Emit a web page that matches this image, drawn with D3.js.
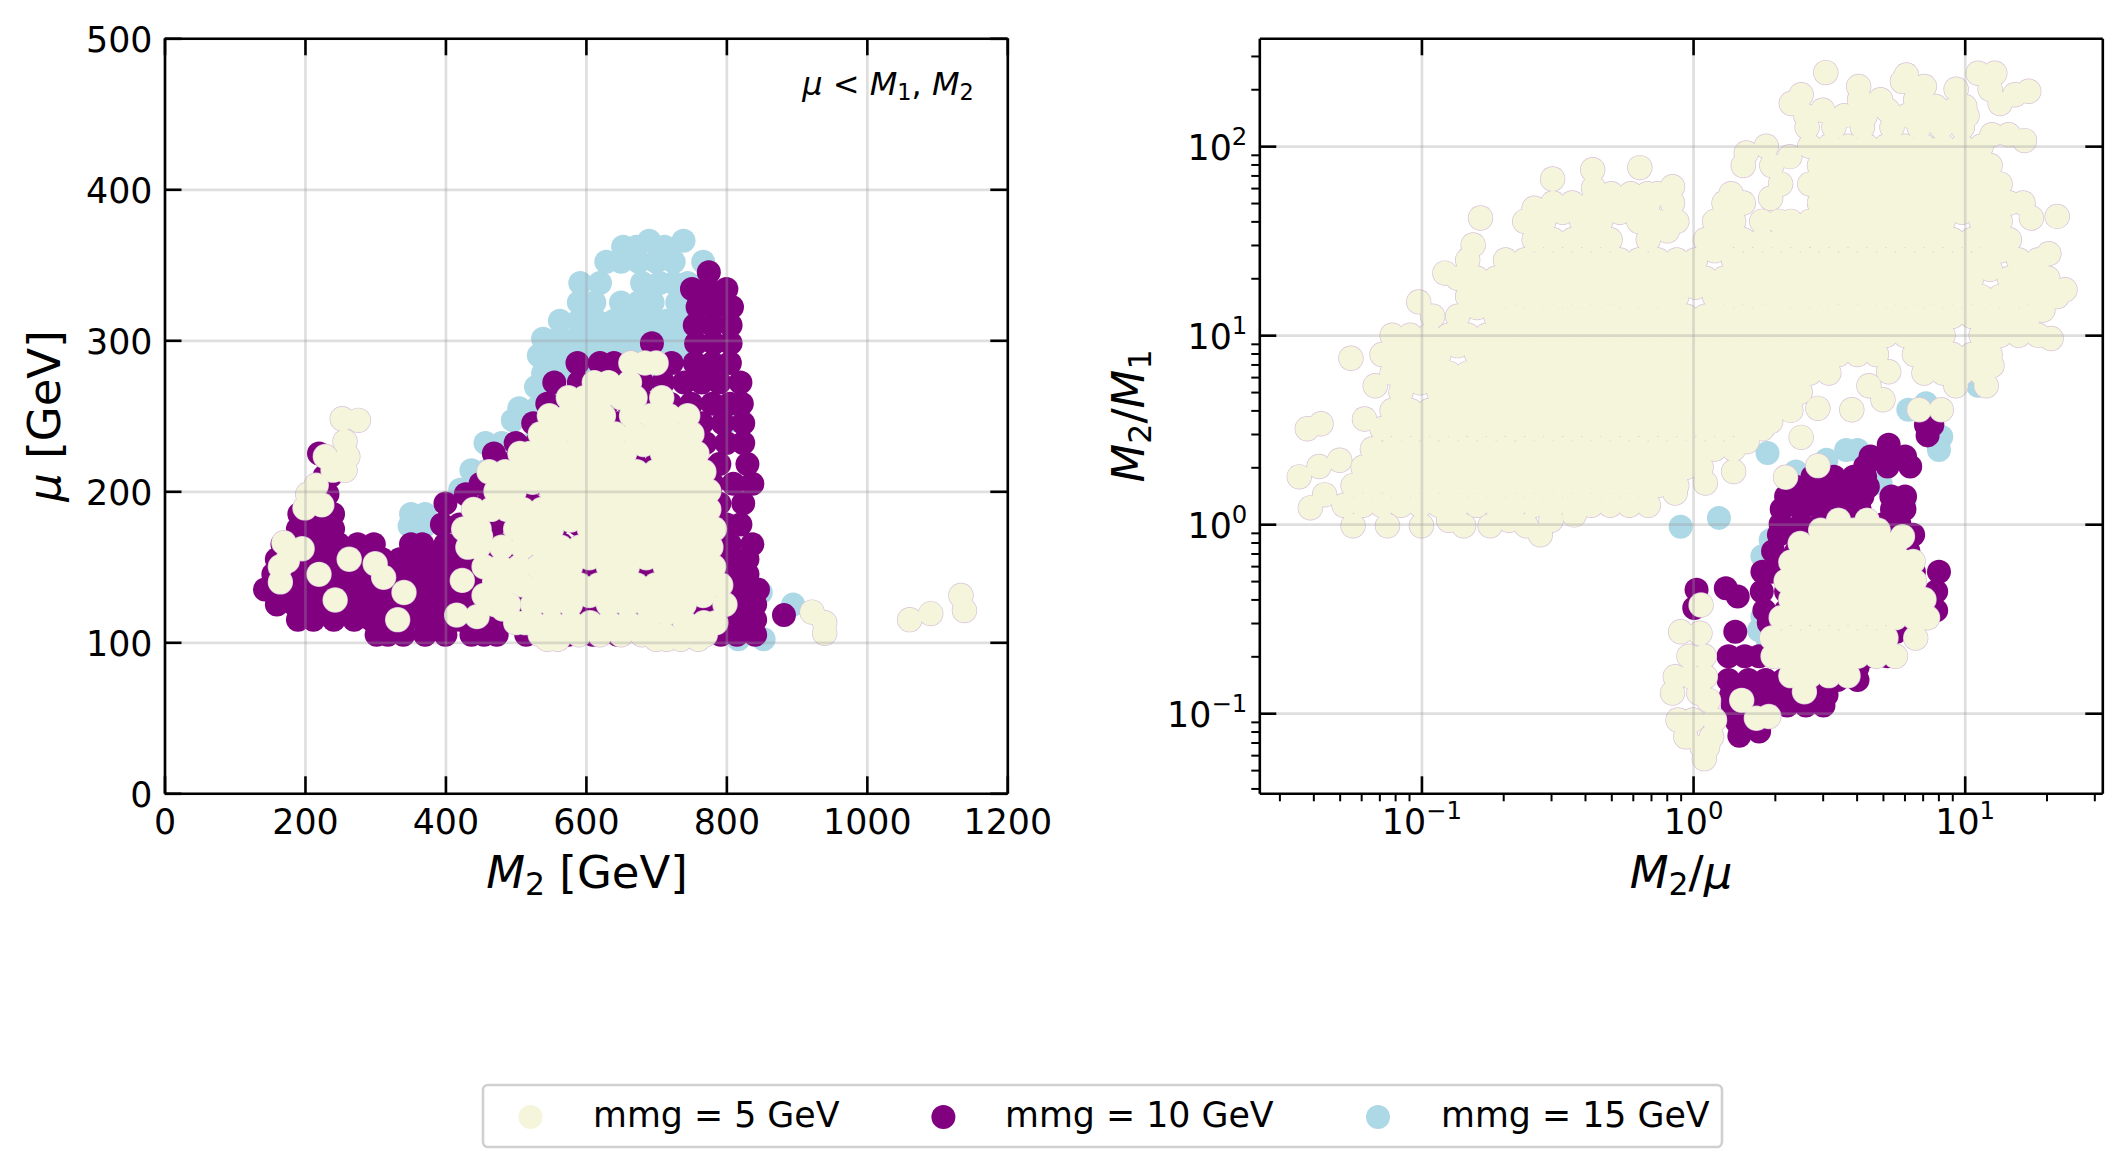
<!DOCTYPE html>
<html><head><meta charset="utf-8">
<script src="https://cdn.jsdelivr.net/npm/d3@7/dist/d3.min.js"></script>
<style>html,body{margin:0;padding:0;background:#fff}svg{display:block}text{font-family:"DejaVu Sans";fill:#000}</style>
</head><body><svg id="c" width="2126" height="1172"></svg>
<script>
// Each row: [y value, [x values]]
// Left panel: mu [GeV] vs M2 [GeV]
const leftBlue15 = [[366,[690,739]],[362,[653,672,712]],[352,[629,650,675,700,725,767]],[338,[592,620,680,705,725,745,770]],[325,[590,612,650,675,695,730,755]],[313,[563,590,615,640,665,690,715,740,762]],[301,[539,560,585,610,635,660,685,710,735,760]],[290,[533,555,580,605,630,655,680,705,730,745]],[278,[539,560,585,610,640,670,700]],[269,[529,550]],[255,[505,530,555]],[247,[496,808]],[232,[457,480,500,525]],[214,[437,460,490]],[201,[421,440]],[185,[351,371]],[177,[349,370]],[133,[849]],[125,[895]],[102,[817,853]]];
const leftPurple10 = [[345,[775]],[334,[751,775,800]],[322,[759,785,808]],[310,[755,780,806]],[298,[694,757,782,806]],[285,[588,620,640,665,722,755,780,805]],[272,[555,590,620,650,680,710,740,765,790,820]],[258,[545,570,600,630,660,690,720,750,780,805,822]],[245,[525,555,585,615,645,675,705,735,765,795,824]],[232,[500,530,560,590,620,650,680,710,740,770,800,824]],[225,[220,469]],[218,[490,520,550,580,610,640,670,700,730,760,790,830]],[210,[228,236]],[205,[450,480,510,540,570,600,630,660,690,720,750,780,810,837]],[198,[225,232,429]],[192,[400,460,490,520,550,580,610,640,670,700,730,760,790,824]],[185,[192,215,240]],[178,[395,420,445,470,500,530,560,590,620,650,680,710,740,770,800,820]],[175,[190,215,240]],[165,[168,195,220,248,275,298,351,367,400,425,450,475,505,535,565,595,625,655,685,715,745,775,805,837]],[155,[160,185,210,235,260,285,310,335,355,380,400,425,450,480,510,540,570,600,630,660,690,720,750,780,810,830]],[145,[155,178,203,228,253,278,303,328,353,378,403,428,455,485,515,545,575,605,635,665,695,725,755,785,810,830]],[135,[143,168,193,218,243,268,293,318,343,368,393,418,443,470,500,530,560,590,620,650,680,710,740,770,800,825,845]],[125,[160,185,210,235,260,285,310,335,360,385,410,435,460,490,520,550,580,610,640,670,700,730,760,790,815,841]],[118,[882]],[115,[190,212,241,270,295,320,345,370,395,420,445,470,500,530,560,590,620,650,680,710,740,770,795,815,841]],[105,[302,318,340,371,400,437,455,473,515,540,575,610,645,680,715,750,792,815,841]]];
const leftBeige5 = [[285,[664,684,700]],[272,[612,632,662]],[262,[575,598,622,650,670,708]],[250,[548,575,600,625,665,692,718,745]],[238,[535,560,588,615,642,670,697,724,751]],[231,[682]],[225,[506,520,547,574,601,628,655,709,736,758]],[213,[462,485,510,537,564,591,618,645,672,699,726,753,768]],[206,[524]],[200,[472,498,551,578,605,632,659,686,713,740,767,775]],[188,[440,465,488,510,537,564,591,618,645,672,699,726,753,775]],[181,[578]],[175,[426,448,500,524,551,605,632,659,686,713,740,767,783]],[170,[450]],[163,[432,447,480,510,537,564,591,618,645,672,699,726,753,778]],[156,[605,686]],[150,[455,478,505,532,551,578,632,659,713,740,767,782]],[140,[470,492]],[138,[510,537,564,591,618,645,672,699,726,753,780,792]],[131,[455,478,605,767]],[125,[470,490,524,551,578,632,659,686,713,740,798]],[122,[482]],[119,[714]],[113,[500,514,525,552,579,606,633,660,687,741,768,785]],[105,[535,565,590,620,650,680,712,740,770]],[102,[545,560,700,715,735,760]],
[248,[253]],[247,[276]],[233,[257]],[223,[229,261]],[214,[257,240]],[204,[216]],[198,[204]],[191,[224]],[189,[200]],[166,[170]],[162,[196]],[155,[263]],[154,[175]],[152,[300]],[150,[165]],[145,[220]],[143,[312]],[141,[424]],[140,[165]],[133,[341]],[131,[1134]],[128,[243]],[121,[1139]],[120,[922]],[119,[1091]],[118,[416]],[117,[445]],[115,[332,1061]],[113,[940]],[106,[940]]];

// Right panel: M2/M1 vs M2/mu
const rightBlue15 = [[11.6,[14.8]],[5.4,[11.2]],[4.37,[7.2]],[4.03,[6.2]],[2.9,[8.2]],[2.47,[3.66,4.03,8.04]],[2.38,[1.88]],[2.19,[3.1]],[1.9,[2.39]],[1.65,[4.9]],[1.29,[6]],[1.08,[1.245]],[.97,[.9]],[.826,[1.93]],[.676,[1.8]],[.324,[1.8]],[.275,[1.75]],[.245,[1.88]]];
const rightPurple10 = [[3.35,[7.2,7.6]],[2.95,[7.3]],[2.63,[5.25]],[2.28,[4.5,5.25,6.03]],[2.02,[4.3,5.2,6.3]],[1.78,[2.75,3.3,3.9,4.3]],[1.58,[2.39,2.85,3.4,4,4.4]],[1.4,[2.2,2.6,3.05,3.6,4.2,5.37,6.03]],[1.2,[2.12,2.5,2.95,3.5,4.1,5.4,6]],[1,[2.1,2.5,2.95,3.5,4.2,5,5.75]],[.88,[2.07,2.5,3,3.5,4.1,6.46]],[.72,[1.97,2.4,3,3.6,4.3,5.2,6.2]],[.56,[1.8,1.95,2.4,3,3.6,4.4,5.4,6.5,8.04]],[.458,[1.32]],[.45,[1.03]],[.44,[1.79,2.2,2.7,3.3,4,5,6.3,7.85]],[.414,[1.46]],[.36,[1.01]],[.35,[1.83,2.2,2.7,3.3,4,5,6.3,7.85]],[.3,[1.9,2.3,2.8,3.4,4.2,5.2]],[.27,[1.43,2.4,3,3.7,4.6,5.6]],[.2,[1.35,1.55,1.75,2.1,2.5,3,3.6,4.4,5.2]],[.175,[4.03]],[.15,[1.35,1.6,1.85,2.15,2.5,2.9,3.4,4.03]],[.125,[1.38,1.65,1.9,2.3,2.7,3.1]],[.11,[1.4,1.7,2.22,2.6,3.02]],[.09,[1.45,1.7]],[.08,[1.75]],[.076,[1.48]]];
const rightBeige5 = [[245,[3.08]],[243,[11.2,12.9]],[238,[6.1]],[220,[5.9]],[207,[4.07,7.1]],[200,[9.3,12.4]],[195,[17.2]],[187,[2.5,15.3]],[176,[4.1,4.9,6.6]],[168,[2.3,13.5]],[162,[7.8,10]],[155,[3,5.2,9]],[145,[2.6,3.6,4.3,6.1,7.1,8.5,10.2]],[126,[2.63,3.3,4.2,5.4,6.8,8.2,9.8]],[115,[12.6,14.5]],[107,[16.6]],
[100,[1.86,2.69,3.16,3.72,4.37,5.13,6.03,7.08,8.32,9.77,11.5]],[92,[1.57]],[88,[2.27]],
[79,[1.53,1.95,2.92,3.43,4.03,4.73,5.56,6.53,7.67,9.02,10.6,12.4]],[77,[.637]],[75,[.427]],[67,[.304]],
[63,[2.1,2.69,3.16,3.72,4.37,5.13,6.03,7.08,8.32,9.77,11.5,13.5]],[61,[.84]],[60,[.43]],[56,[1.38,.5,.59,.68,.74]],[53,[1.93]],
[50,[.305,.359,.422,.495,.582,.684,.84,1.3,1.53,2.92,3.43,4.03,4.73,5.56,6.53,7.67,9.02,10.6,12.4,14.6,16.4]],[47,[.26]],[44.7,[.331,.537,9.77]],[42.5,[21.9]],[41.7,[17.6,.165]],
[40,[.24,.282,.389,.457,.631,.741,.871,1.2,1.41,1.79,2.07,2.29,2.69,3.16,3.72,4.37,5.13,6.03,7.08,8.32,11.5,13.5]],[35.7,[.804]],
[32,[.26,.305,.359,.422,.495,.684,1.11,1.3,1.53,1.8,2.11,2.48,2.92,3.43,4.03,4.73,5.56,6.53,7.67,9.02,10.6,12.4,14.6]],[30,[.155]],[28,[1.2,13.5]],[27,[20.4]],
[25,[.148,.204,.24,.282,.331,.389,.457,.537,.631,.741,.871,1.02,1.41,1.66,1.95,2.29,2.69,3.16,3.72,4.37,5.13,6.03,7.08,8.32,9.77,11.5,15.8,18.6]],[22.3,[12.4]],[21.3,[.122]],
[20,[.136,.16,.188,.221,.26,.305,.359,.422,.495,.582,.684,.804,.944,1.11,1.3,1.53,1.8,2.11,2.48,2.92,3.43,4.03,4.73,5.56,6.53,7.67,9.02,10.6,14.6,17.2,20.2]],[17.9,[1.02]],[17.4,[23.4]],
[16,[.148,.174,.204,.24,.282,.331,.389,.457,.537,.631,.741,.871,1.2,1.41,1.66,1.95,2.29,2.69,3.16,3.72,4.37,5.13,6.03,7.08,8.32,9.77,11.5,13.5,15.8,18.6,21.9]],[15,[.0977]],[14,[.16]],[13.6,[19.4]],
[12.6,[.11,.136,.188,.221,.26,.305,.359,.422,.495,.582,.684,.804,.944,1.11,1.3,1.53,1.8,2.11,2.48,2.92,3.43,4.03,4.73,5.56,6.53,7.67,9.02,10.6,12.4,14.6,17.2]],
[10,[.078,.091,.107,.126,.148,.174,.204,.24,.282,.331,.389,.457,.537,.631,.741,.871,1.02,1.2,1.41,1.66,1.95,2.29,2.69,3.16,3.72,4.37,5.13,6.03,7.08,8.32,11.5,13.5,15.8,18.6]],[9.6,[20.8]],[8.8,[.136]],
[7.9,[.0716,.0841,.0989,.116,.16,.188,.221,.26,.305,.359,.422,.495,.582,.684,.804,.944,1.11,1.3,1.53,1.8,2.11,2.48,2.92,3.43,4.03,4.73,6.53,7.67,9.02,10.6,12.4]],[7.55,[.055]],[6.9,[12.6]],
[6.4,[5.25]],[6.3,[.078,.091,.107,.126,.148,.174,.204,.24,.282,.331,.389,.457,.537,.631,.741,.871,1.02,1.2,1.41,1.66,1.95,2.29,2.69,3.16,7.08,8.32,9.77,11.5]],[5.6,[.0989]],
[5.4,[.0676,4.44,9.27,12]],[5,[.0841,.116,.136,.16,.188,.221,.26,.305,.359,.422,.495,.582,.684,.804,.944,1.11,1.3,1.53,1.8,2.11,2.48]],[4.73,[2.34]],[4.55,[5]],
[4.1,[2.88]],[4.03,[3.84,6.8,8.2]],[4,[.078,.091,.107,.126,.148,.174,.204,.24,.282,.331,.389,.457,.537,.631,.741,.871,1.02,1.2,1.41,1.66,1.95,2.29]],[3.6,[.0617]],[3.49,[1.93]],[3.4,[.0427]],
[3.2,[.038,.0716,.0841,.0989,.116,.136,.16,.188,.221,.26,.305,.359,.422,.495,.582,.684,.804,.944,1.11,1.3,1.53,1.8]],[2.88,[2.5]],[2.74,[1.58]],
[2.5,[.066,.078,.091,.107,.126,.148,.174,.204,.24,.282,.331,.389,.457,.537,.631,.741,.871,1.02,1.2,1.41]],[2.18,[.05]],[2.04,[2.88]],[2.02,[.042]],
[2,[.061,.0716,.0841,.0989,.116,.136,.16,.188,.221,.26,.305,.359,.422,.495,.582,.684,.804,.944,1.07]],[1.9,[1.41]],[1.78,[.0355]],[1.77,[2.19]],[1.65,[1.11]],
[1.6,[.056,.066,.078,.091,.107,.126,.148,.174,.204,.24,.282,.331,.389,.457,.537,.631,.741,.871]],[1.46,[.859]],[1.43,[.044]],
[1.26,[.0519,.061,.0716,.0841,.0989,.116,.136,.16,.188,.221,.26,.305,.359,.422,.495,.582,.684]],[1.22,[.039]],[1.12,[.365]],
[1.05,[.126,.21,.3,3.43,4.37]],[.98,[.056,.075,.1,.143,.179,.243]],[.93,[2.95,3.43,3.9,4.37,4.8]],[.88,[.274]],
[.86,[5.9]],[.79,[2.48,2.92,3.43,4.03,4.73,5.56]],[.635,[6.46]],[.63,[2.29,2.69,3.16,3.72,4.37,5.13,6.03]],[.5,[2.2,2.48,2.92,3.43,4.03,4.73,5.56,6.53]],[.4,[2.29,2.69,3.16,3.72,4.37,5.13,6.03,7.08]],[.374,[1.07]],[.32,[2.11,2.48,2.92,3.43,4.03,4.73,5.56,6.53,7.3]],[.27,[.9]],[.265,[1.06]],[.25,[1.95,2.29,2.69,3.16,3.72,4.37,5.13,6.6]],[.2,[.966,1.1,1.97,2.11,2.48,2.92,3.43,4.03,4.73,5.56]],[.158,[2.29,2.69,3.16,3.72]],[.156,[.86,.98,1.11]],[.13,[2.57]],[.128,[.84,1.05]],[.117,[1.14,1.51]],[.096,[1.9]],[.094,[1.71]],[.092,[.88,1,1.2]],[.075,[.94,1.17]],[.066,[1.08,1.13]],[.0575,[1.1]]];

const xTicksLeft = [0,200,400,600,800,1000,1200];
const yTicksLeft = [0,100,200,300,400,500];
const xDecades = [0.1,1,10], yDecades = [0.1,1,10,100];
const xMinor = [.03,.04,.05,.06,.07,.08,.09,.2,.3,.4,.5,.6,.7,.8,.9,2,3,4,5,6,7,8,9,20,30];
const yMinor = [.04,.05,.06,.07,.08,.09,.2,.3,.4,.5,.6,.7,.8,.9,2,3,4,5,6,7,8,9,20,30,40,50,60,70,80,90,200,300];
const legendLabels = ["mmg = 5 GeV","mmg = 10 GeV","mmg = 15 GeV"];
const colours = {beige:"#f5f5dc",purple:"#800080",blue:"#add8e6",edge:"#d8c2d8"};

const flat = rows => rows.flatMap(([y,xs]) => xs.map(x => ({x,y})));
const svg = d3.select("#c");
const top_=38.3, bottom=793.3, R=12;
const TICK=34.8;

function panel(xs,ys,blue,purple,beige){
  const g = svg.append("g");
  const put = (data,col,r) => g.append("g").selectAll("circle").data(flat(data)).join("circle")
     .attr("cx",d=>xs(d.x)).attr("cy",d=>ys(d.y)).attr("r",r).attr("fill",col);
  put(blue,colours.blue,R);
  put(purple,colours.purple,R);
  put(beige,colours.edge,R+0.7);
  put(beige,colours.beige,R);
}
function frame(xs,ys,xT,yT,fmtX,fmtY){
  const [l,r]=xs.range();
  const gx = svg.append("g").attr("transform",`translate(0,${bottom})`).call(d3.axisBottom(xs).tickValues(xT).tickSize(-(bottom-top_)).tickFormat(""));
  const gy = svg.append("g").attr("transform",`translate(${l},0)`).call(d3.axisLeft(ys).tickValues(yT).tickSize(-(r-l)).tickFormat(""));
  [gx,gy].forEach(a=>{a.select(".domain").remove();a.selectAll("line").attr("stroke","#9a9a9a").attr("stroke-opacity",.32).attr("stroke-width",2.7);});
  const st = a=>{a.selectAll("path,line").attr("stroke","#000").attr("stroke-width",2.6);a.select(".domain").attr("fill","none");};
  const b=svg.append("g").attr("transform",`translate(0,${bottom})`).call(d3.axisBottom(xs).tickValues(xT).tickSize(-17).tickSizeOuter(0).tickPadding(16).tickFormat(fmtX)).call(st);
  svg.append("g").attr("transform",`translate(0,${top_})`).call(d3.axisTop(xs).tickValues(xT).tickSize(-17).tickSizeOuter(0).tickFormat("")).call(st);
  const le=svg.append("g").attr("transform",`translate(${l},0)`).call(d3.axisLeft(ys).tickValues(yT).tickSize(-17).tickSizeOuter(0).tickPadding(12).tickFormat(fmtY)).call(st);
  svg.append("g").attr("transform",`translate(${r},0)`).call(d3.axisRight(ys).tickValues(yT).tickSize(-17).tickSizeOuter(0).tickFormat("")).call(st);
  [b,le].forEach(a=>a.selectAll("text").attr("font-size",TICK).attr("font-family","DejaVu Sans").attr("fill","#000"));
  le.selectAll("text").attr("dy","0.37em");
  return {b,le};
}
function math(x,y,parts,size,rot){
  const t=svg.append("text").attr("text-anchor","middle").attr("font-size",size)
    .attr("transform",`translate(${x},${y})${rot?" rotate(-90)":""}`);
  parts.forEach(p=>{
    const s=t.append("tspan").text(p.t);
    if(p.i) s.attr("font-style","oblique");
    if(p.sub) s.attr("font-size",size*.7).attr("dy",size*.15);
    if(p.up) s.attr("dy",-size*.15);
  });
  return t;
}
function expLabels(a){
  a.selectAll("text").each(function(d){
    const e=Math.round(Math.log10(d)), t=d3.select(this);
    t.text("10");
    t.append("tspan").attr("font-size",TICK*.7).attr("dy",-TICK*.42).text(e<0?"\u2212"+(-e):e);
  });
}

// left
const xL=d3.scaleLinear().domain([0,1200]).range([164.5,1007.3]);
const yL=d3.scaleLinear().domain([0,500]).range([bottom,top_]);
panel(xL,yL,leftBlue15,leftPurple10,leftBeige5);
frame(xL,yL,xTicksLeft,yTicksLeft,d=>d,d=>d);

// right
const xR=d3.scaleLog().domain([0.0253,32.1]).range([1259.3,2102.3]);
const yR=d3.scaleLog().domain([0.0377,372]).range([bottom,top_]);
panel(xR,yR,rightBlue15,rightPurple10,rightBeige5);
const fr=frame(xR,yR,xDecades,yDecades,d=>d,d=>d);
expLabels(fr.b); expLabels(fr.le);
const stm=a=>a.selectAll("path,line").attr("stroke","#000").attr("stroke-width",2);
svg.append("g").attr("transform",`translate(0,${bottom})`).call(d3.axisBottom(xR).tickValues(xMinor).tickSize(8).tickSizeOuter(0).tickFormat("")).call(stm).select(".domain").remove();
svg.append("g").attr("transform",`translate(1259.3,0)`).call(d3.axisLeft(yR).tickValues(yMinor).tickSize(8).tickSizeOuter(0).tickFormat("")).call(stm).select(".domain").remove();

// labels
math(587,888,[{t:"M",i:1},{t:"2",sub:1},{t:" [GeV]",up:1}],45);
math(60,416,[{t:"\u03bc",i:1},{t:" [GeV]"}],45,true);
math(1681,888,[{t:"M",i:1},{t:"2",sub:1},{t:"/",up:1},{t:"\u03bc",i:1}],45);
math(1144,416,[{t:"M",i:1},{t:"2",sub:1},{t:"/",up:1},{t:"M",i:1},{t:"1",sub:1}],45,true);
math(888,95,[{t:"\u03bc",i:1},{t:" < "},{t:"M",i:1},{t:"1",sub:1},{t:", ",up:1},{t:"M",i:1},{t:"2",sub:1}],32);

// legend
svg.append("rect").attr("x",483).attr("y",1085).attr("width",1239).attr("height",62).attr("rx",5)
  .attr("fill","#fff").attr("stroke","#d0d0d0").attr("stroke-width",2.6);
const legX=[530.5,943.4,1378], legT=[593,1005,1441], legC=[colours.beige,colours.purple,colours.blue];
legendLabels.forEach((s,i)=>{
  svg.append("circle").attr("cx",legX[i]).attr("cy",1117).attr("r",12).attr("fill",legC[i]);
  svg.append("text").attr("x",legT[i]).attr("y",1127).attr("font-size",TICK).text(s);
});
</script></body></html>
